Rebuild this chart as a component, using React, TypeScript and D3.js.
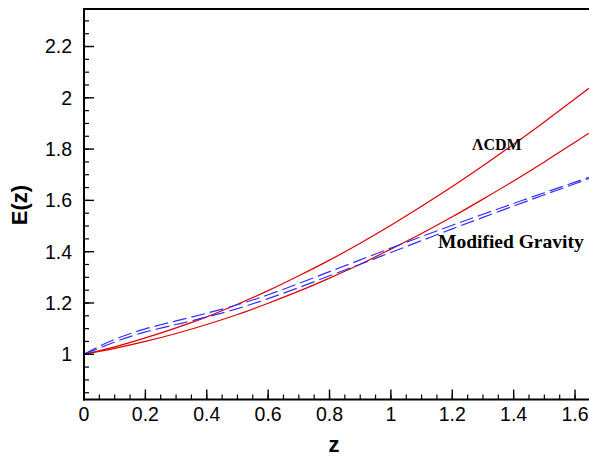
import React from "react";
import * as d3 from "d3";

const W = 589;
const H = 457;

// redshift samples
const zGrid = [0, 0.1, 0.2, 0.3, 0.4, 0.5, 0.6, 0.7, 0.8, 0.9, 1.0, 1.1, 1.2, 1.3, 1.4, 1.5, 1.6, 1.645];
// ΛCDM curves (two solid red lines)
const lcdmUpper = [1, 1.029, 1.064, 1.103, 1.146, 1.195, 1.248, 1.306, 1.367, 1.433, 1.503, 1.577, 1.654, 1.735, 1.819, 1.906, 1.996, 2.037];
const lcdmLower = [1, 1.023, 1.050, 1.081, 1.116, 1.155, 1.199, 1.246, 1.297, 1.351, 1.410, 1.471, 1.536, 1.605, 1.676, 1.750, 1.827, 1.862];

// Modified gravity curves (two dashed blue lines)
const zMG = [0, 0.05, 0.1, 0.15, 0.2, 0.25, 0.3, 0.4, 0.5, 0.6, 0.7, 0.8, 0.9, 1.0, 1.1, 1.2, 1.3, 1.4, 1.5, 1.6, 1.645];
const mgUpper = [1, 1.031, 1.058, 1.080, 1.099, 1.115, 1.130, 1.160, 1.193, 1.232, 1.276, 1.322, 1.368, 1.414, 1.459, 1.503, 1.546, 1.588, 1.630, 1.671, 1.690];
const mgLower = [1, 1.024, 1.048, 1.069, 1.087, 1.102, 1.116, 1.145, 1.178, 1.217, 1.260, 1.306, 1.351, 1.397, 1.443, 1.489, 1.534, 1.578, 1.622, 1.665, 1.686];

const xMajor = [0, 0.2, 0.4, 0.6, 0.8, 1, 1.2, 1.4, 1.6];
const xTickLabels = ["0", "0.2", "0.4", "0.6", "0.8", "1", "1.2", "1.4", "1.6"];
const yMajor = [1, 1.2, 1.4, 1.6, 1.8, 2, 2.2];
const yTickLabels = ["1", "1.2", "1.4", "1.6", "1.8", "2", "2.2"];

const X0 = 84, X1 = 589, Y0 = 399.5, Y1 = 9;

export default function App() {
  const x = d3.scaleLinear().domain([0, 1.6455]).range([X0, X1]);
  const y = d3.scaleLinear().domain([0.8236, 2.3463]).range([Y0, Y1]);

  const line = d3
    .line<[number, number]>()
    .x((d) => x(d[0]))
    .y((d) => y(d[1]))
    .curve(d3.curveMonotoneX);

  const red = "#e00000";
  const blue = "#2f2fff";

  const xMinor = d3.range(0, 33).map((i) => i * 0.05).filter((v) => x(v) <= X1 - 0.5);
  const yMinor = d3.range(17, 47).map((i) => i * 0.05).filter((v) => y(v) < Y0 - 1 && y(v) > Y1 + 1);

  const font = "'Liberation Sans', Arial, Helvetica, sans-serif";
  const serif = "'Liberation Serif', 'Times New Roman', serif";

  return (
    <svg width={W} height={H} style={{ position: "absolute", left: 0, top: 0, background: "#fff" }}>
      <defs>
        <clipPath id="plot">
          <rect x={X0} y={Y1} width={X1 - X0} height={Y0 - Y1} />
        </clipPath>
      </defs>
      <g clipPath="url(#plot)" fill="none">
        <path d={line(zGrid.map((z, i) => [z, lcdmUpper[i]]))!} stroke={red} strokeWidth={1.2} />
        <path d={line(zGrid.map((z, i) => [z, lcdmLower[i]]))!} stroke={red} strokeWidth={1.2} />
        <path d={line(zMG.map((z, i) => [z, mgUpper[i]]))!} stroke={blue} strokeWidth={1.2} strokeDasharray="14,5" />
        <path d={line(zMG.map((z, i) => [z, mgLower[i]]))!} stroke={blue} strokeWidth={1.2} strokeDasharray="14,5" />
      </g>

      {/* frame */}
      <line x1={X0} x2={X1} y1={Y1} y2={Y1} stroke="#000" strokeWidth={2} />
      <line x1={X0} x2={X0} y1={Y1 - 1} y2={Y0 + 1} stroke="#000" strokeWidth={2} />
      <line x1={X0 - 1} x2={X1} y1={Y0} y2={Y0} stroke="#000" strokeWidth={2} />

      {/* x ticks */}
      {xMinor.map((v) => (
        <line key={"xm" + v} x1={x(v)} x2={x(v)} y1={Y0} y2={Y0 - 5} stroke="#000" strokeWidth={1.2} />
      ))}
      {xMajor.map((v) => (
        <line key={"xM" + v} x1={x(v)} x2={x(v)} y1={Y0} y2={Y0 - 10} stroke="#000" strokeWidth={1.4} />
      ))}
      {xMajor.map((v, i) => (
        <text key={"xl" + v} x={x(v)} y={421} textAnchor="middle" fontFamily={font} fontSize={19.5} fill="#000">
          {xTickLabels[i]}
        </text>
      ))}

      {/* y ticks */}
      {yMinor.map((v) => (
        <line key={"ym" + v} x1={X0} x2={X0 + 5} y1={y(v)} y2={y(v)} stroke="#000" strokeWidth={1.2} />
      ))}
      {yMajor.map((v) => (
        <line key={"yM" + v} x1={X0} x2={X0 + 10} y1={y(v)} y2={y(v)} stroke="#000" strokeWidth={1.4} />
      ))}
      {yMajor.map((v, i) => (
        <text key={"yl" + v} x={72} y={y(v)} dy="0.35em" textAnchor="end" fontFamily={font} fontSize={19.5} fill="#000">
          {yTickLabels[i]}
        </text>
      ))}

      {/* axis titles */}
      <text x={334} y={452} textAnchor="middle" fontFamily={font} fontSize={22} fontWeight="bold" fill="#000">
        z
      </text>
      <text
        transform={`translate(27,205) rotate(-90)`}
        textAnchor="middle"
        fontFamily={font}
        fontSize={22}
        fontWeight="bold"
        fill="#000"
      >
        E(z)
      </text>

      {/* annotations */}
      <text x={472} y={150} fontFamily={serif} fontSize={16} fontWeight="bold" fill="#000">
        ΛCDM
      </text>
      <text x={438} y={248} fontFamily={serif} fontSize={19.5} fontWeight="bold" fill="#000">
        Modified Gravity
      </text>
    </svg>
  );
}
